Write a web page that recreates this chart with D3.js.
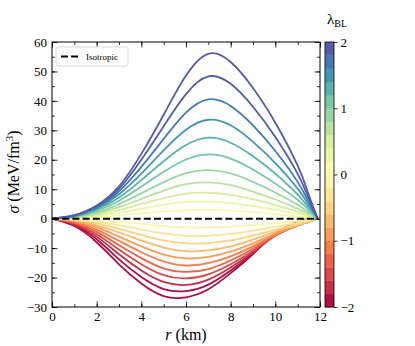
<!DOCTYPE html>
<html>
<head>
<meta charset="utf-8">
<script src="https://cdn.jsdelivr.net/npm/d3@7"></script>
<style>
  body { margin: 0; background: #fff; }
  text { font-family: "Liberation Serif", "DejaVu Serif", serif; fill: #000; }
</style>
</head>
<body>
<div id="chart"></div>
<script>
// radius grid (km)
const rGrid = [0, 1, 2, 3, 4, 5, 6, 7, 8, 9, 10, 11, 11.5, 11.9];

// lambda_BL of each curve
const lambdas = [-2, -1.818, -1.636, -1.455, -1.273, -1.091, -0.909, -0.727, -0.545, -0.364, -0.182,
                 0.182, 0.364, 0.545, 0.727, 0.909, 1.091, 1.273, 1.455, 1.636, 1.818, 2];

// sigma (MeV/fm^3) for each lambda, on rGrid
const sigmaCurves = [
  [0, -2.5, -8.0, -15.5, -22.0, -26.3, -26.7, -24.0, -18.5, -12.0, -5.0, -1.0, -0.2, 0],
  [0, -2.2, -7.0, -13.8, -19.8, -23.9, -24.6, -22.4, -17.6, -11.8, -5.4, -1.5, -0.4, 0],
  [0, -1.9, -6.1, -12.1, -17.6, -21.5, -22.5, -20.7, -16.6, -11.4, -5.7, -1.9, -0.7, 0],
  [0, -1.6, -5.3, -10.5, -15.5, -19.2, -20.3, -18.9, -15.5, -10.9, -5.8, -2.1, -0.8, 0],
  [0, -1.3, -4.5, -9.0, -13.4, -16.9, -18.1, -17.1, -14.2, -10.2, -5.7, -2.3, -1.0, 0],
  [0, -1.1, -3.7, -7.5, -11.4, -14.5, -15.9, -15.1, -12.8, -9.4, -5.5, -2.4, -1.0, 0],
  [0, -0.8, -2.9, -6.1, -9.4, -12.2, -13.5, -13.0, -11.2, -8.4, -5.1, -2.3, -1.0, 0],
  [0, -0.6, -2.3, -4.7, -7.4, -9.8, -11.0, -10.8, -9.4, -7.1, -4.5, -2.2, -1.0, 0],
  [0, -0.4, -1.6, -3.5, -5.5, -7.4, -8.4, -8.3, -7.4, -5.7, -3.8, -1.8, -0.8, 0],
  [0, -0.3, -1.0, -2.2, -3.7, -5.0, -5.8, -5.8, -5.2, -4.1, -2.8, -1.4, -0.6, 0],
  [0, -0.1, -0.5, -1.1, -1.8, -2.5, -2.9, -3.0, -2.7, -2.2, -1.5, -0.8, -0.4, 0],
  [0, 0.1, 0.5, 1.1, 1.8, 2.5, 2.9, 3.0, 2.7, 2.2, 1.5, 0.8, 0.4, 0],
  [0, 0.2, 0.9, 2.0, 3.4, 4.8, 5.7, 5.8, 5.3, 4.3, 3.0, 1.6, 0.7, 0],
  [0, 0.3, 1.3, 2.9, 5.0, 7.0, 8.5, 8.8, 8.1, 6.6, 4.6, 2.4, 1.1, 0],
  [0, 0.4, 1.7, 3.9, 6.7, 9.5, 11.7, 12.3, 11.4, 9.2, 6.5, 3.4, 1.6, 0],
  [0, 0.5, 2.1, 4.9, 8.6, 12.4, 15.5, 16.5, 15.4, 12.5, 8.9, 4.7, 2.1, 0],
  [0, 0.7, 2.6, 6.1, 10.9, 15.9, 20.1, 21.8, 20.4, 16.7, 11.9, 6.4, 2.9, 0],
  [0, 0.8, 3.1, 7.2, 13.1, 19.5, 25.0, 27.5, 25.8, 21.2, 15.3, 8.2, 3.7, 0],
  [0, 0.9, 3.5, 8.3, 15.3, 23.2, 30.2, 33.6, 31.7, 26.1, 18.9, 10.2, 4.6, 0],
  [0, 1.0, 3.9, 9.3, 17.6, 27.1, 36.0, 40.5, 38.3, 31.7, 23.0, 12.5, 5.6, 0],
  [0, 1.1, 4.3, 10.2, 20.0, 31.4, 42.3, 48.3, 45.8, 38.0, 27.7, 15.2, 6.8, 0],
  [0, 1.2, 4.5, 11.0, 22.0, 35.3, 48.6, 56.0, 53.2, 44.4, 32.6, 18.0, 8.0, 0]
];

// isotropic reference line
const isoR = [0, 11.9];
const isoSigma = [0, 0];

// ticks
const xTicks = [0, 2, 4, 6, 8, 10, 12];
const yTicks = [-30, -20, -10, 0, 10, 20, 30, 40, 50, 60];
const cbTicks = [-2, -1, 0, 1, 2];
const cbBands = 20;

function main(){

  var width = 415, height = 346;
  var mLeft = 52, mRight = 320, mTop = 42, mBottom = 307;

  var svg = d3.select("#chart").append("svg")
    .attr("width", width)
    .attr("height", height);

  var x = d3.scaleLinear().domain([0, 12]).range([mLeft, mRight]);
  var y = d3.scaleLinear().domain([-30, 60]).range([mBottom, mTop]);
  var color = d3.scaleSequential(d3.interpolateSpectral).domain([-2, 2]);

  // discrete colormap: every value gets the colour of its band's centre
  var bandW = 4 / cbBands;
  function bandColor(v){
    var k = Math.min(cbBands - 1, Math.max(0, Math.floor((v + 2) / bandW)));
    return color(-2 + (k + 0.5) * bandW);
  }

  var line = d3.line()
    .x(function(d){ return x(d[0]); })
    .y(function(d){ return y(d[1]); })
    .curve(d3.curveNatural);

  var plot = svg.append("g");

  // curves
  sigmaCurves.forEach(function(vals, i){
    plot.append("path")
      .datum(rGrid.map(function(r, j){ return [r, vals[j]]; }))
      .attr("d", line)
      .attr("fill", "none")
      .attr("stroke", bandColor(lambdas[i]))
      .attr("stroke-width", 1.8);
  });

  // isotropic
  plot.append("path")
    .datum(isoR.map(function(r, j){ return [r, isoSigma[j]]; }))
    .attr("d", line)
    .attr("fill", "none")
    .attr("stroke", "#000")
    .attr("stroke-width", 2)
    .attr("stroke-dasharray", "7,3.2");

  // axes, ticks pointing in
  function styleAxis(g){
    g.select(".domain").remove();
    g.selectAll("line").attr("stroke", "#000").attr("stroke-width", 0.8);
    g.selectAll("text").attr("fill", "#000")
      .style("font-family", "Liberation Serif").style("font-size", "13px");
  }
  function minusFmt(d){ return d < 0 ? "\u2212" + Math.abs(d) : d; }

  var xMinor = d3.range(0, 12.01, 1);
  var yMinor = d3.range(-30, 60.01, 5);

  svg.append("g").attr("transform", "translate(0," + mBottom + ")")
    .call(d3.axisBottom(x).tickValues(xMinor).tickSize(-3).tickFormat(""))
    .call(styleAxis);
  svg.append("g").attr("transform", "translate(0," + mBottom + ")")
    .call(d3.axisBottom(x).tickValues(xTicks).tickSize(-5.5).tickPadding(5).tickFormat(d3.format("d")))
    .call(styleAxis);
  svg.append("g").attr("transform", "translate(0," + mTop + ")")
    .call(d3.axisTop(x).tickValues(xMinor).tickSize(-3).tickFormat(""))
    .call(styleAxis);
  svg.append("g").attr("transform", "translate(0," + mTop + ")")
    .call(d3.axisTop(x).tickValues(xTicks).tickSize(-5.5).tickFormat(""))
    .call(styleAxis);

  svg.append("g").attr("transform", "translate(" + mLeft + ",0)")
    .call(d3.axisLeft(y).tickValues(yMinor).tickSize(-3).tickFormat(""))
    .call(styleAxis);
  svg.append("g").attr("transform", "translate(" + mLeft + ",0)")
    .call(d3.axisLeft(y).tickValues(yTicks).tickSize(-5.5).tickPadding(5).tickFormat(minusFmt))
    .call(styleAxis);
  svg.append("g").attr("transform", "translate(" + mRight + ",0)")
    .call(d3.axisRight(y).tickValues(yMinor).tickSize(-3).tickFormat(""))
    .call(styleAxis);
  svg.append("g").attr("transform", "translate(" + mRight + ",0)")
    .call(d3.axisRight(y).tickValues(yTicks).tickSize(-5.5).tickFormat(""))
    .call(styleAxis);

  // frame
  svg.append("rect")
    .attr("x", mLeft).attr("y", mTop)
    .attr("width", mRight - mLeft).attr("height", mBottom - mTop)
    .attr("fill", "none").attr("stroke", "#000").attr("stroke-width", 1);

  // axis labels
  svg.append("text")
    .attr("x", 186).attr("y", 340)
    .attr("text-anchor", "middle")
    .style("font-size", "16px")
    .html('<tspan font-style="italic">r</tspan> (km)');

  svg.append("text")
    .attr("transform", "translate(19,172) rotate(-90)")
    .attr("text-anchor", "middle")
    .style("font-size", "16px")
    .html('<tspan font-style="italic">σ</tspan> (MeV/fm<tspan dy="-6" font-size="11px">3</tspan><tspan dy="6">)</tspan>');

  // legend
  var leg = svg.append("g");
  leg.append("rect")
    .attr("x", 56).attr("y", 47)
    .attr("width", 72).attr("height", 19)
    .attr("rx", 2.5)
    .attr("fill", "#fff").attr("stroke", "#d0d0d0").attr("stroke-width", 0.8);
  leg.append("line")
    .attr("x1", 61).attr("x2", 78).attr("y1", 56.5).attr("y2", 56.5)
    .attr("stroke", "#000").attr("stroke-width", 2).attr("stroke-dasharray", "7,3.2");
  leg.append("text")
    .attr("x", 86).attr("y", 60)
    .style("font-size", "9px")
    .text("Isotropic");

  // colorbar
  var cbX = 325, cbW = 9;
  var cb = d3.scaleLinear().domain([-2, 2]).range([mBottom, mTop]);
  var bandEdges = d3.range(cbBands + 1).map(function(i){ return -2 + 4 * i / cbBands; });
  svg.append("g").selectAll("rect")
    .data(d3.range(cbBands))
    .enter().append("rect")
    .attr("x", cbX)
    .attr("y", function(i){ return cb(bandEdges[i + 1]); })
    .attr("width", cbW)
    .attr("height", function(i){ return cb(bandEdges[i]) - cb(bandEdges[i + 1]) + 0.4; })
    .attr("fill", function(i){ return color((bandEdges[i] + bandEdges[i + 1]) / 2); });
  svg.append("rect")
    .attr("x", cbX).attr("y", mTop)
    .attr("width", cbW).attr("height", mBottom - mTop)
    .attr("fill", "none").attr("stroke", "#000").attr("stroke-width", 0.8);
  svg.append("g").attr("transform", "translate(" + (cbX + cbW) + ",0)")
    .call(d3.axisRight(cb).tickValues(cbTicks).tickSize(3.5).tickPadding(3).tickFormat(minusFmt))
    .call(styleAxis);

  svg.append("text")
    .attr("x", 327).attr("y", 24)
    .style("font-size", "15px")
    .html('λ<tspan dy="3" font-size="10px">BL</tspan>');
}

main();
</script>
</body>
</html>
